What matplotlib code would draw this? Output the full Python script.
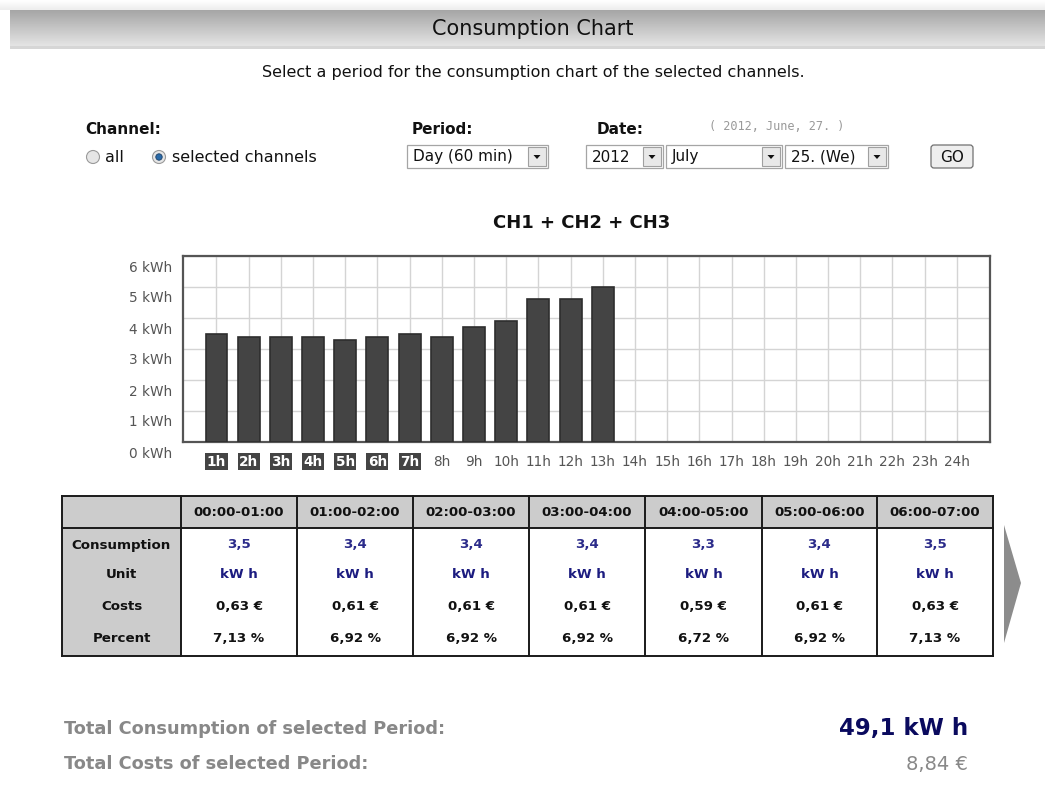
import matplotlib
matplotlib.use('Agg')
import matplotlib.pyplot as plt
import matplotlib.transforms as mtransforms
from matplotlib.patches import Rectangle, Circle, Polygon, FancyBboxPatch
import numpy as np

# Data
hour_labels = ['1h', '2h', '3h', '4h', '5h', '6h', '7h', '8h', '9h', '10h', '11h', '12h',
               '13h', '14h', '15h', '16h', '17h', '18h', '19h', '20h', '21h', '22h', '23h', '24h']
consumption = [3.5, 3.4, 3.4, 3.4, 3.3, 3.4, 3.5, 3.4, 3.7, 3.9, 4.6, 4.6, 5.0]
y_ticks = [0, 1, 2, 3, 4, 5, 6]

periods = ['00:00-01:00', '01:00-02:00', '02:00-03:00', '03:00-04:00',
           '04:00-05:00', '05:00-06:00', '06:00-07:00']
costs = ['0,63 €', '0,61 €', '0,61 €', '0,61 €', '0,59 €', '0,61 €', '0,63 €']
percent = ['7,13 %', '6,92 %', '6,92 %', '6,92 %', '6,72 %', '6,92 %', '7,13 %']
row_names = ['Consumption', 'Unit', 'Costs', 'Percent']

total_consumption = '49,1 kW h'
total_costs = '8,84 €'

W, H = 1045, 798
fig = plt.figure(figsize=(W / 100, H / 100), dpi=100)
fig.patch.set_facecolor('white')

# background axes in pixel coordinates (y down)
bg = fig.add_axes([0, 0, 1, 1])
bg.axis('off')

# header bar with gradient
top_shadow = np.linspace(1.0, 0.93, 20).reshape(-1, 1)
bg.imshow(top_shadow, cmap='gray', vmin=0, vmax=1, extent=(0, W, 10, 0), aspect='auto')
grad = np.linspace(0.65, 0.90, 50).reshape(-1, 1)
bg.imshow(grad, cmap='gray', vmin=0, vmax=1, extent=(10, W, 47, 10), aspect='auto')
bg.add_patch(Rectangle((10, 46), W - 10, 3, color='#d6d6d6', lw=0))
bg.set_xlim(0, W)
bg.set_ylim(H, 0)
bg.text(533, 29, 'Consumption Chart', ha='center', va='center', fontsize=15, color='#111111')

bg.text(533, 73, 'Select a period for the consumption chart of the selected channels.',
        ha='center', va='center', fontsize=11.5, color='#111111')

# form controls
bg.text(85, 129, 'Channel:', ha='left', va='center', fontsize=11, fontweight='bold', color='#111')
bg.text(412, 129, 'Period:', ha='left', va='center', fontsize=11, fontweight='bold', color='#111')
bg.text(597, 129, 'Date:', ha='left', va='center', fontsize=11, fontweight='bold', color='#111')
bg.text(709, 127, '( 2012, June, 27. )', ha='left', va='center', fontsize=8.6,
        family='DejaVu Sans Mono', color='#999999')

for cx in (93, 159):
    bg.add_patch(Circle((cx, 157), 6.5, facecolor='#e6e6e6', edgecolor='#9a9a9a', lw=0.8))
bg.add_patch(Circle((159, 157), 3.2, facecolor='#2a6aa8', edgecolor='#1c3f66', lw=0.6))
bg.text(105, 157, 'all', ha='left', va='center', fontsize=11.5, color='#111')
bg.text(172, 157, 'selected channels', ha='left', va='center', fontsize=11.5, color='#111')


def select_box(x0, x1, label):
    bg.add_patch(Rectangle((x0, 145), x1 - x0, 23, facecolor='white', edgecolor='#a5a5a5', lw=0.9))
    bg.add_patch(Rectangle((x1 - 20, 147), 18, 19, facecolor='#e8e8e8', edgecolor='#a0a0a0', lw=0.8))
    bx = x1 - 11
    bg.add_patch(Polygon([(bx - 3.5, 155), (bx + 3.5, 155), (bx, 159)], color='#111', lw=0))
    bg.text(x0 + 6, 157, label, ha='left', va='center', fontsize=11, color='#111')


select_box(407, 548, 'Day (60 min)')
select_box(586, 663, '2012')
select_box(666, 782, 'July')
select_box(785, 888, '25. (We)')
bg.add_patch(FancyBboxPatch((931, 145), 42, 23, boxstyle='round,pad=0,rounding_size=3',
                            facecolor='#eeeeee', edgecolor='#707070', lw=0.9))
bg.text(952, 157, 'GO', ha='center', va='center', fontsize=11, color='#111')

# chart title
bg.text(582, 223, 'CH1 + CH2 + CH3', ha='center', va='center', fontsize=13, fontweight='bold',
        color='#111')

# bar chart
left, right, top, bottom = 183, 990, 256, 442
ax = fig.add_axes([left / W, 1 - bottom / H, (right - left) / W, (bottom - top) / H])
xpos = np.arange(1, len(hour_labels) + 1)
ax.bar(xpos[:len(consumption)], consumption, width=0.68, color='#444444',
       edgecolor='#2e2e2e', lw=1.2, zorder=3)
ax.set_xlim(-0.04, 25.03)
ax.set_ylim(0, 6)
ax.set_xticks(xpos)
ax.set_xticklabels(hour_labels)
ax.set_yticks(y_ticks)
ax.set_yticklabels([f'{v} kWh' for v in y_ticks])
ax.grid(True, color='#d4d4d4', lw=1, zorder=0)
ax.tick_params(length=0, labelsize=9.8, labelcolor='#555555')
ax.tick_params(axis='x', pad=9)
ax.tick_params(axis='y', pad=8)
for sp in ax.spines.values():
    sp.set_color('#555555')
    sp.set_linewidth(1.6)
offset = mtransforms.ScaledTranslation(0, -10 / 100, fig.dpi_scale_trans)
for lab in ax.get_yticklabels():
    lab.set_transform(lab.get_transform() + offset)
for i, lab in enumerate(ax.get_xticklabels()):
    if i < len(periods):
        lab.set_color('white')
        lab.set_fontweight('bold')
        lab.set_bbox(dict(facecolor='#444444', edgecolor='none', pad=1.0))

# table
col_x = [62, 181, 297, 413, 529, 645, 762, 877, 993]
t_top, t_head, t_bot = 496, 528, 656
row_y = [545, 575, 607, 639]
bg.add_patch(Rectangle((col_x[0], t_top), col_x[-1] - col_x[0], t_head - t_top,
                       facecolor='#cccccc', lw=0))
bg.add_patch(Rectangle((col_x[0], t_head), col_x[1] - col_x[0], t_bot - t_head,
                       facecolor='#cccccc', lw=0))
for x in col_x:
    bg.plot([x, x], [t_top, t_bot], color='#1a1a1a', lw=1.4, solid_capstyle='projecting')
for y in (t_top, t_head, t_bot):
    bg.plot([col_x[0], col_x[-1]], [y, y], color='#1a1a1a', lw=1.4, solid_capstyle='projecting')

fs = 9.6
for ry, name in zip(row_y, row_names):
    bg.text((col_x[0] + col_x[1]) / 2, ry, name, ha='center', va='center', fontsize=fs,
            fontweight='bold', color='#111')
for i, p in enumerate(periods):
    cx = (col_x[i + 1] + col_x[i + 2]) / 2
    bg.text(cx, 513, p, ha='center', va='center', fontsize=fs, fontweight='bold', color='#111')
    bg.text(cx, row_y[0], f'{consumption[i]:.1f}'.replace('.', ','), ha='center', va='center',
            fontsize=fs, fontweight='bold', color='#2b2b8a')
    bg.text(cx, row_y[1], 'kW h', ha='center', va='center', fontsize=fs, fontweight='bold',
            color='#1c1c80')
    bg.text(cx, row_y[2], costs[i], ha='center', va='center', fontsize=fs, fontweight='bold',
            color='#111')
    bg.text(cx, row_y[3], percent[i], ha='center', va='center', fontsize=fs, fontweight='bold',
            color='#111')

# next arrow
bg.add_patch(Polygon([(1004, 525), (1021, 583), (1004, 643)], color='#8c8c8c', lw=0))

# totals
bg.text(64, 729, 'Total Consumption of selected Period:', ha='left', va='center', fontsize=12.8,
        fontweight='bold', color='#888888')
bg.text(64, 764, 'Total Costs of selected Period:', ha='left', va='center', fontsize=12.8,
        fontweight='bold', color='#888888')
bg.text(968, 728, total_consumption, ha='right', va='center', fontsize=16.5, fontweight='bold',
        color='#0a0a5e')
bg.text(968, 764, total_costs, ha='right', va='center', fontsize=14, color='#888888')

fig.savefig('out.png', dpi=100)
